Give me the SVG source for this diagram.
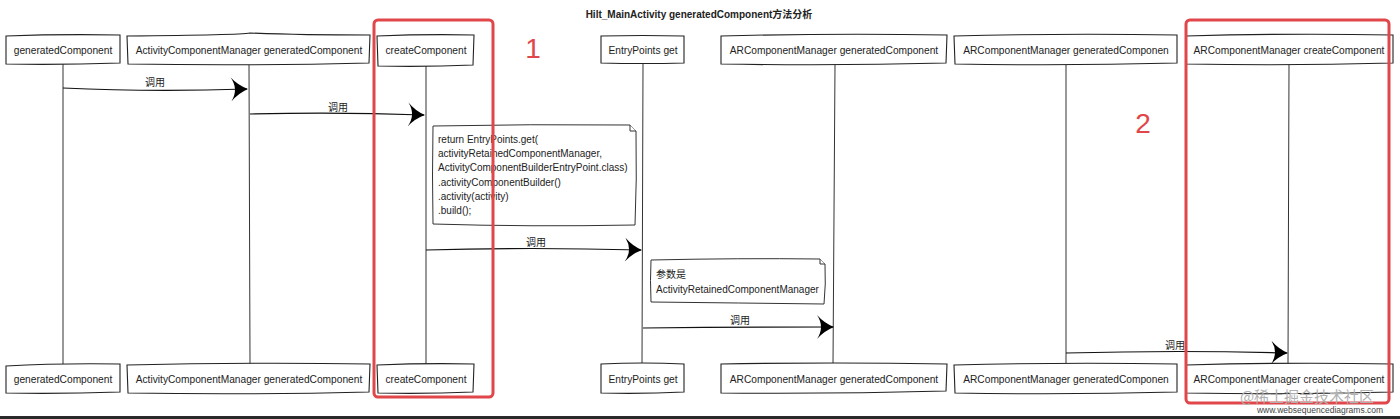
<svg xmlns="http://www.w3.org/2000/svg" width="1400" height="419" viewBox="0 0 1400 419">
<style>
.box{fill:#fff;stroke:#222;stroke-width:1.1}
.life{stroke:#333;stroke-width:1;fill:none}
.msg{stroke:#111;stroke-width:1.2;fill:none}
.t{font-family:"Liberation Sans",Arial,sans-serif;font-size:10.2px;fill:#222;text-anchor:middle}
.lbl{font-family:"Liberation Sans","Noto Sans CJK SC",sans-serif;font-size:10px;fill:#222;text-anchor:middle}
.note{fill:#fff;stroke:#333;stroke-width:1}
.nt{font-family:"Liberation Sans","Noto Sans CJK SC",sans-serif;font-size:10px;fill:#222}
.red{fill:none;stroke:#e0464a;stroke-width:3}
.num{font-family:"Liberation Sans",Arial,sans-serif;font-size:28px;fill:#e0464a;text-anchor:middle}
</style>
<defs>
<marker id="arr" viewBox="0 0 20 24" refX="18" refY="12" markerWidth="20" markerHeight="24" markerUnits="userSpaceOnUse" orient="auto">
<path d="M2 0 Q9 8 19 12 Q9 16 2 24 Q10 12 2 0 Z" fill="#000"/>
</marker>
</defs>
<rect width="1400" height="419" fill="#fff"/>
<text x="699" y="18" font-family="Liberation Sans,'Noto Sans CJK SC',sans-serif" font-size="10" font-weight="bold" fill="#222" text-anchor="middle">Hilt_MainActivity generatedComponent方法分析</text>

<g id="lifelines">
<path class="life" d="M63 64 L63 364"/>
<path class="life" d="M249 65 L250 364"/>
<path class="life" d="M426 66 L426 364"/>
<path class="life" d="M643 64 L642 364"/>
<path class="life" d="M835 65 L833 364"/>
<path class="life" d="M1066 65 L1066 364"/>
<path class="life" d="M1289 65 L1288 364"/>
</g>

<g id="p1">
<path class="box" d="M6 36 Q60 34 120 35 L120 63 Q60 65 6 64 Z"/>
<text class="t" x="63" y="54">generatedComponent</text>
<path class="box" d="M6 366 Q60 363 120 364 L120 392 Q60 394 6 393 Z"/>
<text class="t" x="63" y="383">generatedComponent</text>
</g>
<g id="p2">
<path class="box" d="M127 36 Q240 35 250 33 Q300 35 370 35 L369 63 Q250 66 128 64 Z"/>
<text class="t" x="249" y="54">ActivityComponentManager generatedComponent</text>
<path class="box" d="M127 365 Q250 362 370 364 L369 392 Q250 395 128 393 Z"/>
<text class="t" x="249" y="383">ActivityComponentManager generatedComponent</text>
</g>
<g id="p3">
<path class="box" d="M377 36 Q426 34 474 35 L473 65 Q426 67 378 66 Z"/>
<text class="t" x="426" y="54">createComponent</text>
<path class="box" d="M377 365 Q426 363 474 364 L473 392 Q426 394 378 393 Z"/>
<text class="t" x="426" y="383">createComponent</text>
</g>
<g id="p4">
<path class="box" d="M601 36 Q643 35 684 36 L684 63 Q643 64 601 63 Z"/>
<text class="t" x="643" y="54">EntryPoints get</text>
<path class="box" d="M601 364 Q643 362 684 364 L684 392 Q643 394 601 393 Z"/>
<text class="t" x="643" y="383">EntryPoints get</text>
</g>
<g id="p5">
<path class="box" d="M721 36 Q835 33 947 35 L946 63 Q835 66 721 64 Z"/>
<text class="t" x="834" y="54">ARComponentManager generatedComponent</text>
<path class="box" d="M721 364 Q835 362 947 364 L946 391 Q835 394 721 393 Z"/>
<text class="t" x="834" y="383">ARComponentManager generatedComponent</text>
</g>
<g id="p6">
<path class="box" d="M954 36 Q1066 33 1177 35 L1177 63 Q1066 66 955 64 Z"/>
<text class="t" x="1066" y="54">ARComponentManager generatedComponen</text>
<path class="box" d="M954 365 Q1066 362 1177 364 L1177 392 Q1066 395 955 393 Z"/>
<text class="t" x="1066" y="383">ARComponentManager generatedComponen</text>
</g>
<g id="p7">
<path class="box" d="M1186 36 Q1290 33 1393 35 L1393 63 Q1290 66 1186 64 Z"/>
<text class="t" x="1289" y="54">ARComponentManager createComponent</text>
<path class="box" d="M1186 365 Q1290 362 1393 364 L1393 392 Q1290 395 1186 393 Z"/>
<text class="t" x="1289" y="383">ARComponentManager createComponent</text>
</g>

<g id="connectors">
<path class="msg" d="M63 88 Q150 92 247 89" marker-end="url(#arr)"/>
<text class="lbl" x="155" y="86">调用</text>
<path class="msg" d="M250 114 Q340 112 424 115" marker-end="url(#arr)"/>
<text class="lbl" x="338" y="111">调用</text>
<path class="msg" d="M426 250 Q530 247 641 250" marker-end="url(#arr)"/>
<text class="lbl" x="536" y="246">调用</text>
<path class="msg" d="M643 328 Q740 327 833 327" marker-end="url(#arr)"/>
<text class="lbl" x="740" y="324">调用</text>
<path class="msg" d="M1066 353 Q1180 350 1287 353" marker-end="url(#arr)"/>
<text class="lbl" x="1175" y="349">调用</text>
</g>

<g id="note1">
<path class="note" d="M433 126 Q530 124 630 125 L636 131 Q637 180 635 225 Q530 227 433 224 Q432 175 433 126 Z"/>
<path class="note" d="M630 125 L630 131 L636 131"/>
<text class="nt" x="438" y="143">return EntryPoints.get(</text>
<text class="nt" x="438" y="157">activityRetainedComponentManager,</text>
<text class="nt" x="438" y="171">ActivityComponentBuilderEntryPoint.class)</text>
<text class="nt" x="438" y="186">.activityComponentBuilder()</text>
<text class="nt" x="438" y="200">.activity(activity)</text>
<text class="nt" x="438" y="214">.build();</text>
</g>

<g id="note2">
<path class="note" d="M651 260 Q740 258 820 259 L825 264 Q826 284 824 304 Q740 303 651 302 Q650 280 651 260 Z"/>
<path class="note" d="M820 259 L820 264 L825 264"/>
<text class="nt" x="656" y="278">参数是</text>
<text class="nt" x="656" y="293">ActivityRetainedComponentManager</text>
</g>

<g id="highlights">
<rect class="red" x="374" y="20" width="119" height="377" rx="4"/>
<rect class="red" x="1186" y="20" width="203" height="383" rx="4"/>
<text class="num" x="533" y="58">1</text>
<text class="num" x="1143" y="133">2</text>
</g>

<text x="1307" y="402" font-family="'Noto Sans CJK SC',sans-serif" font-size="15" fill="#b0b0b0" text-anchor="middle">@稀土掘金技术社区</text>
<text x="1320" y="413" font-family="Liberation Sans,Arial,sans-serif" font-size="8.5" fill="#444" text-anchor="middle">www.websequencediagrams.com</text>
<rect x="0" y="416" width="1400" height="3" fill="#2a2a2a"/>
</svg>
